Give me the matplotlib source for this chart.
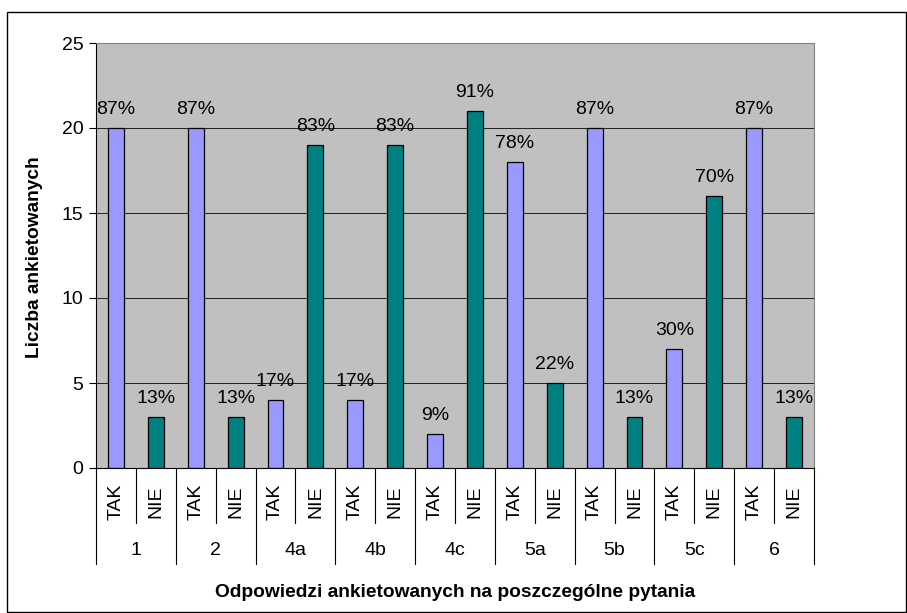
import numpy as np
from matplotlib import pyplot as plt
from matplotlib.lines import Line2D
from matplotlib.patches import Rectangle

groups = ["1", "2", "4a", "4b", "4c", "5a", "5b", "5c", "6"]
answers = ["TAK", "NIE"]
tak = [20, 20, 4, 4, 2, 18, 20, 7, 20]
nie = [3, 3, 19, 19, 21, 5, 3, 16, 3]

W, H = 907, 613
plt.rcParams['font.family'] = ['Liberation Sans', 'DejaVu Sans']
FS = 14


def main():
    fig = plt.figure(figsize=(W / 100, H / 100), dpi=100)
    fig.patches.append(Rectangle((7 / W, 1 / H), 899 / W, 600 / H, transform=fig.transFigure,
                                 fill=False, edgecolor="black", linewidth=1))

    ax = fig.add_axes([96 / W, (H - 468) / H, 718 / W, 425 / H])
    ax.set_facecolor("#C0C0C0")

    values = []
    colors = []
    labels = []
    for t, n in zip(tak, nie):
        total = t + n
        values += [t, n]
        colors += ["#9999FF", "#008080"]
        labels += ["%d%%" % round(100 * t / total), "%d%%" % round(100 * n / total)]
    x = np.arange(len(values))

    ax.set_axisbelow(True)
    ax.yaxis.grid(True, color="#202020", linewidth=0.7)
    ax.bar(x, values, width=0.4, color=colors, edgecolor="black", linewidth=0.9)
    for xi, v, lab in zip(x, values, labels):
        ax.annotate(lab, (xi, v), xytext=(0, 7), textcoords="offset points",
                    ha="center", va="bottom", fontsize=FS)

    ax.set_xlim(-0.5, len(values) - 0.5)
    ax.set_ylim(0, 25)
    ax.set_yticks(range(0, 26, 5))
    ax.tick_params(axis="y", labelsize=FS, length=5, width=0.8, pad=4)
    ax.set_xticks([])
    for s in ["top", "right"]:
        ax.spines[s].set_color("#808080")
    ax.spines["left"].set_color("black")
    ax.spines["bottom"].set_color("black")

    tr = ax.get_xaxis_transform()
    for i, xi in enumerate(x):
        ax.text(xi, -0.08, answers[i % 2], rotation=90, ha="center", va="center",
                fontsize=FS, transform=tr)
    for g, name in enumerate(groups):
        ax.text(2 * g + 0.5, -0.195, name, ha="center", va="center", fontsize=FS, transform=tr)
    for b in range(len(values) + 1):
        low = -0.226 if b % 2 == 0 else -0.129
        ax.add_line(Line2D([b - 0.5, b - 0.5], [0, low], transform=tr, color="black",
                           linewidth=0.8, clip_on=False))

    ax.text(0.5, -0.294, "Odpowiedzi ankietowanych na poszczególne pytania", ha="center",
            va="center", fontsize=13.8, fontweight="bold", transform=ax.transAxes)
    fig.text(35 / W, 1 - 257 / H, "Liczba ankietowanych", rotation=90, ha="center",
             va="center", fontsize=13.8, fontweight="bold")

    fig.savefig("out.png", dpi=100)


if __name__ == '__main__':
    main()
